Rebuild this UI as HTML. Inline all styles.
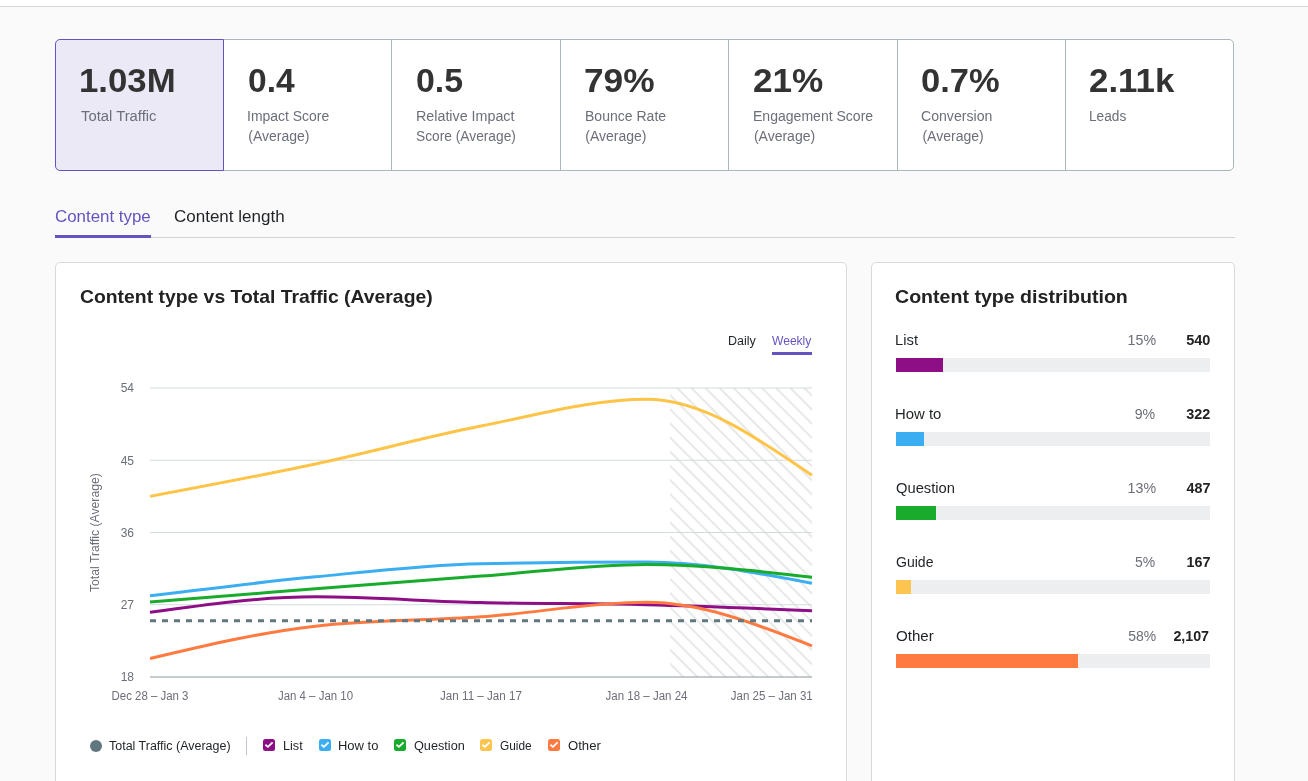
<!DOCTYPE html>
<html lang="en"><head><meta charset="utf-8"><title>Content analytics</title>
<style>
*{box-sizing:border-box;margin:0;padding:0}
html,body{width:1308px;height:781px;overflow:hidden}
body{position:relative;background:#fafafa;font-family:"Liberation Sans",sans-serif;color:#1f2226}
.top{position:absolute;left:0;top:0;width:1308px;height:7px;background:#fff;border-bottom:1px solid #d3d7da}
.stats{z-index:0;position:absolute;left:55px;top:39px;width:1179px;height:132px;background:#fff;border-radius:5px}
.cell{position:absolute;top:0;height:132px;border:1px solid #abb6ba;border-right-width:1px}
.cell:first-child{border-radius:5px 0 0 5px}
.cell:last-child{border-radius:0 5px 5px 0}
.cell.sel{background:#ebe9f6;border-color:#6553c1;z-index:2}
.tabline{position:absolute;left:55px;top:237px;width:1180px;height:1px;background:#cfd3d6}
.tabsel{position:absolute;left:55px;top:235px;width:96px;height:3px;background:#6553c1}
.wsel{position:absolute;left:772px;top:352px;width:40px;height:3px;background:#6553c1}
.panel{position:absolute;top:262px;height:560px;background:#fff;border:1px solid #d6d9dd;border-radius:5px}
.t{position:absolute;white-space:nowrap;display:block}
.b{font-weight:bold}
.trk{position:absolute;left:896px;width:314px;height:14px;background:#edeef0}
.trk div{height:14px}
.ax{}
</style></head><body>
<div class="top"></div>
<div class="stats"><div class="cell sel" style="left:0px;width:169px"></div><div class="cell" style="left:168px;width:169px"></div><div class="cell" style="left:336px;width:170px"></div><div class="cell" style="left:505px;width:169px"></div><div class="cell" style="left:673px;width:170px"></div><div class="cell" style="left:842px;width:169px"></div><div class="cell" style="left:1010px;width:169px"></div></div>
<div class="tabline"></div><div class="tabsel"></div>
<div class="panel" style="left:55px;width:792px"></div>
<div class="panel" style="left:871px;width:364px"></div>
<svg width="1308" height="781" viewBox="0 0 1308 781" style="position:absolute;left:0;top:0">
<defs><pattern id="h" width="10" height="10" patternUnits="userSpaceOnUse" patternTransform="translate(0,0.77) rotate(45)"><line x1="0" x2="10" y1="5" y2="5" stroke="#d4d7d7" stroke-width="1.1"/></pattern></defs>
<line x1="150" x2="812" y1="388" y2="388" stroke="#d3dbdd" stroke-width="1"/><line x1="150" x2="812" y1="460.25" y2="460.25" stroke="#d3dbdd" stroke-width="1"/><line x1="150" x2="812" y1="532.5" y2="532.5" stroke="#d3dbdd" stroke-width="1"/><line x1="150" x2="812" y1="604.75" y2="604.75" stroke="#d3dbdd" stroke-width="1"/>
<rect x="670" y="388" width="142" height="289" fill="url(#h)"/>
<line x1="150" x2="812" y1="677" y2="677" stroke="#8a979d" stroke-width="1"/>
<g font-family="Liberation Sans, sans-serif" font-size="12" fill="#6c6e79"><text x="134" y="392.4" text-anchor="end" class="ax">54</text><text x="134" y="464.65" text-anchor="end" class="ax">45</text><text x="134" y="536.9" text-anchor="end" class="ax">36</text><text x="134" y="609.15" text-anchor="end" class="ax">27</text><text x="134" y="681.4" text-anchor="end" class="ax">18</text><text x="150" y="699.7" text-anchor="middle" class="ax" textLength="76.9" lengthAdjust="spacingAndGlyphs">Dec 28 – Jan 3</text><text x="315.5" y="699.7" text-anchor="middle" class="ax" textLength="75.1" lengthAdjust="spacingAndGlyphs">Jan 4 – Jan 10</text><text x="481" y="699.7" text-anchor="middle" class="ax" textLength="81.9" lengthAdjust="spacingAndGlyphs">Jan 11 – Jan 17</text><text x="646.5" y="699.7" text-anchor="middle" class="ax" textLength="81.9" lengthAdjust="spacingAndGlyphs">Jan 18 – Jan 24</text><text x="812.7" y="699.7" text-anchor="end" class="ax" textLength="81.9" lengthAdjust="spacingAndGlyphs">Jan 25 – Jan 31</text>
<text transform="translate(99,532.6) rotate(-90)" text-anchor="middle" textLength="118.9" lengthAdjust="spacingAndGlyphs">Total Traffic (Average)</text></g>
<path d="M150.00,612.39C205.17,604.61,260.33,596.82,315.50,596.82C370.67,596.82,425.83,601.32,481.00,602.62C536.17,603.93,591.33,603.31,646.50,604.66C701.67,606.01,756.83,608.37,812.00,610.73" fill="none" stroke="#8e0e85" stroke-width="3"/><path d="M150.00,595.86C205.17,589.00,260.33,582.14,315.50,576.80C370.67,571.45,425.83,564.95,481.00,563.79C536.17,562.64,591.33,562.06,646.50,562.06C701.67,562.06,756.83,572.66,812.00,583.25" fill="none" stroke="#3aaef0" stroke-width="3"/><path d="M150.00,601.90C205.17,597.52,260.33,593.14,315.50,588.84C370.67,584.55,425.83,580.17,481.00,576.12C536.17,572.07,591.33,564.54,646.50,564.54C701.67,564.54,756.83,570.87,812.00,577.20" fill="none" stroke="#18ab2c" stroke-width="3"/><path d="M150.00,496.38C205.17,486.03,260.33,475.68,315.50,463.97C370.67,452.25,425.83,436.85,481.00,426.09C536.17,415.32,591.33,399.37,646.50,399.37C701.67,399.37,756.83,437.32,812.00,475.27" fill="none" stroke="#fdc448" stroke-width="3"/><path d="M150.00,658.57C205.17,645.47,260.33,632.38,315.50,626.18C370.67,619.97,425.83,620.84,481.00,616.87C536.17,612.90,591.33,602.37,646.50,602.37C701.67,602.37,756.83,624.13,812.00,645.90" fill="none" stroke="#ff7a40" stroke-width="3"/>
<line x1="150" x2="812" y1="620.7" y2="620.7" stroke="#617780" stroke-width="3" stroke-dasharray="6 6"/>
<circle cx="96" cy="746" r="6" fill="#617780"/>
<rect x="246" y="737" width="1" height="18" fill="#c4c7cf"/>
<g transform="translate(263,739)"><rect width="12" height="12" rx="2.5" fill="#8e0e85"/><path d="M2.4 5.8L4.9 7.9L9.6 3.3" fill="none" stroke="#fff" stroke-width="1.8"/></g><g transform="translate(319,739)"><rect width="12" height="12" rx="2.5" fill="#3aaef0"/><path d="M2.4 5.8L4.9 7.9L9.6 3.3" fill="none" stroke="#fff" stroke-width="1.8"/></g><g transform="translate(394,739)"><rect width="12" height="12" rx="2.5" fill="#18ab2c"/><path d="M2.4 5.8L4.9 7.9L9.6 3.3" fill="none" stroke="#fff" stroke-width="1.8"/></g><g transform="translate(480,739)"><rect width="12" height="12" rx="2.5" fill="#fdc550"/><path d="M2.4 5.8L4.9 7.9L9.6 3.3" fill="none" stroke="#fff" stroke-width="1.8"/></g><g transform="translate(548,739)"><rect width="12" height="12" rx="2.5" fill="#ff7a40"/><path d="M2.4 5.8L4.9 7.9L9.6 3.3" fill="none" stroke="#fff" stroke-width="1.8"/></g>
</svg>
<div class="wsel"></div>
<div class="trk" style="top:358px"><div style="width:47.0px;background:#8e0e85"></div></div>
<div class="trk" style="top:432px"><div style="width:28.0px;background:#3aaef0"></div></div>
<div class="trk" style="top:506px"><div style="width:40.0px;background:#18ab2c"></div></div>
<div class="trk" style="top:580px"><div style="width:15.0px;background:#fdc550"></div></div>
<div class="trk" style="top:654px"><div style="width:182.0px;background:#ff7a40"></div></div>

<span id="t0" class="t b" style="left:78.80px;top:59.77px;font-size:33px;line-height:41px;color:#333333;transform:scaleX(1.0540);transform-origin:0 50%">1.03M</span>
<span id="t1" class="t" style="left:80.70px;top:106.85px;font-size:14px;line-height:18px;color:#6c6e79;transform:scaleX(1.0587);transform-origin:0 50%">Total Traffic</span>
<span id="t2" class="t b" style="left:247.63px;top:59.77px;font-size:33px;line-height:41px;color:#333333;transform:scaleX(1.0169);transform-origin:0 50%">0.4</span>
<span id="t3" class="t" style="left:247.33px;top:106.85px;font-size:14px;line-height:18px;color:#6c6e79;transform:scaleX(0.9968);transform-origin:0 50%">Impact Score</span>
<span id="t4" class="t" style="left:248.31px;top:126.85px;font-size:14px;line-height:18px;color:#6c6e79;transform:scaleX(1.0000);transform-origin:0 50%">(Average)</span>
<span id="t5" class="t b" style="left:415.76px;top:59.77px;font-size:33px;line-height:41px;color:#333333;transform:scaleX(1.0250);transform-origin:0 50%">0.5</span>
<span id="t6" class="t" style="left:415.56px;top:106.85px;font-size:14px;line-height:18px;color:#6c6e79;transform:scaleX(1.0203);transform-origin:0 50%">Relative Impact</span>
<span id="t7" class="t" style="left:415.56px;top:126.85px;font-size:14px;line-height:18px;color:#6c6e79;transform:scaleX(0.9824);transform-origin:0 50%">Score (Average)</span>
<span id="t8" class="t b" style="left:584.49px;top:59.77px;font-size:33px;line-height:41px;color:#333333;transform:scaleX(1.0686);transform-origin:0 50%">79%</span>
<span id="t9" class="t" style="left:584.59px;top:106.85px;font-size:14px;line-height:18px;color:#6c6e79;transform:scaleX(1.0020);transform-origin:0 50%">Bounce Rate</span>
<span id="t10" class="t" style="left:585.26px;top:126.85px;font-size:14px;line-height:18px;color:#6c6e79;transform:scaleX(1.0000);transform-origin:0 50%">(Average)</span>
<span id="t11" class="t b" style="left:752.61px;top:59.77px;font-size:33px;line-height:41px;color:#333333;transform:scaleX(1.0647);transform-origin:0 50%">21%</span>
<span id="t12" class="t" style="left:752.71px;top:106.85px;font-size:14px;line-height:18px;color:#6c6e79;transform:scaleX(1.0025);transform-origin:0 50%">Engagement Score</span>
<span id="t13" class="t" style="left:753.92px;top:126.85px;font-size:14px;line-height:18px;color:#6c6e79;transform:scaleX(1.0000);transform-origin:0 50%">(Average)</span>
<span id="t14" class="t b" style="left:920.64px;top:59.77px;font-size:33px;line-height:41px;color:#333333;transform:scaleX(1.0443);transform-origin:0 50%">0.7%</span>
<span id="t15" class="t" style="left:921.34px;top:106.85px;font-size:14px;line-height:18px;color:#6c6e79;transform:scaleX(1.0073);transform-origin:0 50%">Conversion</span>
<span id="t16" class="t" style="left:922.45px;top:126.85px;font-size:14px;line-height:18px;color:#6c6e79;transform:scaleX(1.0000);transform-origin:0 50%">(Average)</span>
<span id="t17" class="t b" style="left:1089.37px;top:59.77px;font-size:33px;line-height:41px;color:#333333;transform:scaleX(1.0568);transform-origin:0 50%">2.11k</span>
<span id="t18" class="t" style="left:1089.47px;top:106.85px;font-size:14px;line-height:18px;color:#6c6e79;transform:scaleX(0.9778);transform-origin:0 50%">Leads</span>
<span id="t19" class="t" style="left:54.70px;top:207.26px;font-size:16px;line-height:20px;color:#6553c1;transform:scaleX(1.0543);transform-origin:0 50%">Content type</span>
<span id="t20" class="t" style="left:174.30px;top:207.26px;font-size:16px;line-height:20px;color:#1f2226;transform:scaleX(1.0625);transform-origin:0 50%">Content length</span>
<span id="t21" class="t b" style="left:79.60px;top:285.42px;font-size:19px;line-height:24px;color:#222222;transform:scaleX(1.0184);transform-origin:0 50%">Content type vs Total Traffic (Average)</span>
<span id="t22" class="t b" style="left:895.40px;top:285.42px;font-size:19px;line-height:24px;color:#222222;transform:scaleX(1.0307);transform-origin:0 50%">Content type distribution</span>
<span id="t23" class="t" style="left:727.90px;top:334.14px;font-size:12px;line-height:15px;color:#1f2226;transform:scaleX(1.0445);transform-origin:0 50%">Daily</span>
<span id="t24" class="t" style="left:772.00px;top:334.14px;font-size:12px;line-height:15px;color:#6553c1;transform:scaleX(1.0054);transform-origin:0 50%">Weekly</span>
<span id="t25" class="t" style="left:109.00px;top:739.34px;font-size:12px;line-height:15px;color:#1f2226;transform:scaleX(1.0396);transform-origin:0 50%">Total Traffic (Average)</span>
<span id="t26" class="t" style="left:282.90px;top:739.34px;font-size:12px;line-height:15px;color:#1f2226;transform:scaleX(1.0554);transform-origin:0 50%">List</span>
<span id="t27" class="t" style="left:338.10px;top:739.34px;font-size:12px;line-height:15px;color:#1f2226;transform:scaleX(1.0809);transform-origin:0 50%">How to</span>
<span id="t28" class="t" style="left:413.80px;top:739.34px;font-size:12px;line-height:15px;color:#1f2226;transform:scaleX(1.0572);transform-origin:0 50%">Question</span>
<span id="t29" class="t" style="left:500.40px;top:739.34px;font-size:12px;line-height:15px;color:#1f2226;transform:scaleX(0.9878);transform-origin:0 50%">Guide</span>
<span id="t30" class="t" style="left:567.50px;top:739.34px;font-size:12px;line-height:15px;color:#1f2226;transform:scaleX(1.0924);transform-origin:0 50%">Other</span>
<span id="t31" class="t" style="left:894.50px;top:331.15px;font-size:14px;line-height:18px;color:#1f2226;transform:scaleX(1.0555);transform-origin:0 50%">List</span>
<span id="t32" class="t" style="left:1127.68px;top:331.15px;font-size:14px;line-height:18px;color:#6c6e79;transform:scaleX(1.0145);transform-origin:100% 50%">15%</span>
<span id="t33" class="t b" style="left:1186.54px;top:331.15px;font-size:14px;line-height:18px;color:#222222;transform:scaleX(1.0362);transform-origin:100% 50%">540</span>
<span id="t34" class="t" style="left:894.50px;top:405.15px;font-size:14px;line-height:18px;color:#1f2226;transform:scaleX(1.0635);transform-origin:0 50%">How to</span>
<span id="t35" class="t" style="left:1135.47px;top:405.15px;font-size:14px;line-height:18px;color:#6c6e79;transform:scaleX(1.0131);transform-origin:100% 50%">9%</span>
<span id="t36" class="t b" style="left:1186.54px;top:405.15px;font-size:14px;line-height:18px;color:#222222;transform:scaleX(1.0306);transform-origin:100% 50%">322</span>
<span id="t37" class="t" style="left:895.50px;top:479.15px;font-size:14px;line-height:18px;color:#1f2226;transform:scaleX(1.0524);transform-origin:0 50%">Question</span>
<span id="t38" class="t" style="left:1127.68px;top:479.15px;font-size:14px;line-height:18px;color:#6c6e79;transform:scaleX(1.0145);transform-origin:100% 50%">13%</span>
<span id="t39" class="t b" style="left:1186.54px;top:479.15px;font-size:14px;line-height:18px;color:#222222;transform:scaleX(1.0210);transform-origin:100% 50%">487</span>
<span id="t40" class="t" style="left:895.50px;top:553.15px;font-size:14px;line-height:18px;color:#1f2226;transform:scaleX(1.0031);transform-origin:0 50%">Guide</span>
<span id="t41" class="t" style="left:1135.47px;top:553.15px;font-size:14px;line-height:18px;color:#6c6e79;transform:scaleX(0.9969);transform-origin:100% 50%">5%</span>
<span id="t42" class="t b" style="left:1186.54px;top:553.15px;font-size:14px;line-height:18px;color:#222222;transform:scaleX(1.0213);transform-origin:100% 50%">167</span>
<span id="t43" class="t" style="left:895.50px;top:627.15px;font-size:14px;line-height:18px;color:#1f2226;transform:scaleX(1.0801);transform-origin:0 50%">Other</span>
<span id="t44" class="t" style="left:1127.68px;top:627.15px;font-size:14px;line-height:18px;color:#6c6e79;transform:scaleX(0.9955);transform-origin:100% 50%">58%</span>
<span id="t45" class="t b" style="left:1174.37px;top:627.15px;font-size:14px;line-height:18px;color:#222222;transform:scaleX(1.0175);transform-origin:100% 50%">2,107</span>
</body></html>
